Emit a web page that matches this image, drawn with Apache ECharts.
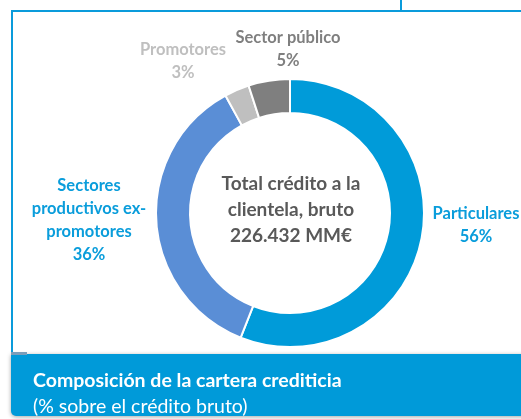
<!DOCTYPE html>
<html>
<head>
<meta charset="utf-8">
<script src="https://cdn.jsdelivr.net/npm/echarts@6/dist/echarts.min.js"></script>
<style>
  html, body { margin: 0; padding: 0; background: #fff; }
  #chart { width: 521px; height: 419px; }
</style>
</head>
<body>
<div id="chart"></div>
<script>
// datos de la composición de la cartera (sentido horario desde arriba)
const categories = ['Particulares', 'Sectores\nproductivos ex-\npromotores', 'Promotores', 'Sector público'];
const values = [56, 36, 3, 5];
const sliceColors = ['#009BD9', '#5A8ED6', '#BFBFBF', '#7F7F7F'];
const labelColors = ['#0A9DDB', '#0A9DDB', '#BFBFBF', '#7F7F7F'];
// posición de cada etiqueta (centro del bloque de texto)
const labelPos = [[476, 225], [89, 220], [183, 61], [288, 49]];

const totalText = 'Total crédito a la\nclientela, bruto\n226.432 MM€';
const footerTitle = 'Composición de la cartera crediticia';
const footerSub = '(% sobre el crédito bruto)';

const FONT = 'Lato, "Open Sans", sans-serif';
const BLUE = '#0A9BDB';

const chart = echarts.init(document.getElementById('chart'), null, { renderer: 'canvas' });

const option = {
  animation: false,
  backgroundColor: '#fff',
  graphic: [
    // marco
    { type: 'line', shape: { x1: 11, y1: 11, x2: 521, y2: 11 }, style: { stroke: BLUE, lineWidth: 2 } },
    { type: 'line', shape: { x1: 12, y1: 10, x2: 12, y2: 354 }, style: { stroke: BLUE, lineWidth: 2 } },
    { type: 'line', shape: { x1: 401, y1: 0, x2: 401, y2: 11 }, style: { stroke: BLUE, lineWidth: 2 } },
    // pie de gráfico
    {
      type: 'rect',
      shape: { x: 11, y: 354, width: 520, height: 62, r: [0, 0, 0, 5] },
      style: { fill: '#009AD9', shadowBlur: 4, shadowColor: 'rgba(0,0,0,0.35)', shadowOffsetX: 0, shadowOffsetY: 1 }
    },
    { type: 'rect', shape: { x: 11, y: 352, width: 16, height: 3 }, style: { fill: '#7A9DBA' } },
    {
      type: 'text', x: 33, y: 381,
      style: { text: footerTitle, fill: '#fff', font: 'bold 19.5px ' + FONT, verticalAlign: 'middle' }
    },
    {
      type: 'text', x: 33, y: 407,
      style: { text: footerSub, fill: '#fff', font: '19.5px ' + FONT, verticalAlign: 'middle' }
    },
    // texto central
    {
      type: 'text', x: 291, y: 210,
      style: {
        text: totalText, fill: '#595959', font: 'bold 19px ' + FONT,
        align: 'center', verticalAlign: 'middle', lineHeight: 26
      }
    }
  ],
  series: [
    {
      type: 'pie',
      center: [290, 213],
      radius: [100, 134],
      startAngle: 90,
      clockwise: true,
      avoidLabelOverlap: false,
      itemStyle: { borderColor: '#fff', borderWidth: 2 },
      label: {
        show: true,
        formatter: (p) => p.name + '\n' + p.value + '%',
        fontFamily: FONT,
        fontWeight: 'bold',
        fontSize: 16.5,
        lineHeight: 23,
        align: 'center'
      },
      labelLine: { show: false },
      labelLayout: (params) => ({
        x: labelPos[params.dataIndex][0],
        y: labelPos[params.dataIndex][1],
        align: 'center',
        verticalAlign: 'middle'
      }),
      emphasis: { disabled: true },
      data: categories.map((name, i) => ({
        name: name,
        value: values[i],
        itemStyle: { color: sliceColors[i] },
        label: { color: labelColors[i] }
      }))
    }
  ]
};

chart.setOption(option);
</script>
</body>
</html>
